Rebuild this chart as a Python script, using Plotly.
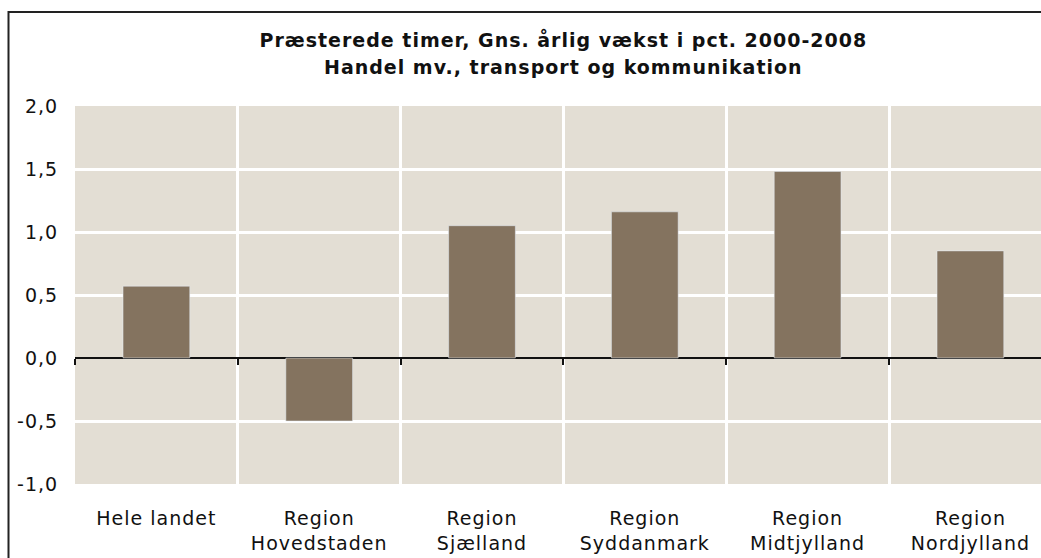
import plotly.graph_objects as go

categories = ["Hele landet", "Region<br>Hovedstaden", "Region<br>Sjælland",
              "Region<br>Syddanmark", "Region<br>Midtjylland", "Region<br>Nordjylland"]
values = [0.57, -0.50, 1.05, 1.16, 1.48, 0.85]
y_tickvals = [-1.0, -0.5, 0.0, 0.5, 1.0, 1.5, 2.0]
y_ticktext = ["-1,0", "-0,5", "0,0", "0,5", "1,0", "1,5", "2,0"]
title_lines = ["Præsterede timer, Gns. årlig vækst i pct. 2000-2008",
               "Handel mv., transport og kommunikation"]

W, H = 1041, 558
L, T, B = 75, 106, 74
pw = W - L
ph = H - T - B
cat_w = 162.8
xr = [-0.5, -0.5 + pw / cat_w]

FONT = "DejaVu Sans, Verdana, sans-serif"
BAR = "#84735F"
BG = "#E3DED4"
TXT = "#111111"

fig = go.Figure()
fig.add_trace(go.Bar(x=categories, y=values, marker=dict(color=BAR, line=dict(width=0)),
                     hoverinfo="skip", showlegend=False))
fig.add_trace(go.Bar(x=categories, y=values, xaxis="x2", marker=dict(color="rgba(0,0,0,0)"),
                     hoverinfo="skip", showlegend=False))

title_center_px = 563
title_y_px = [40, 67]
annotations = []
for line, ypx in zip(title_lines, title_y_px):
    annotations.append(dict(
        text="<b>" + line + "</b>", showarrow=False,
        xref="paper", yref="paper",
        x=(title_center_px - L) / pw, y=(H - B - ypx) / ph,
        xanchor="center", yanchor="middle",
        font=dict(family=FONT, size=19, color=TXT)))

fig.update_layout(
    width=W, height=H,
    margin=dict(l=L, r=0, t=T, b=B, pad=0),
    paper_bgcolor="white", plot_bgcolor=BG,
    bargap=0.59,
    barmode="overlay",
    font=dict(family=FONT, size=19, color=TXT),
    annotations=annotations,
    xaxis=dict(type="category", range=xr, tickson="boundaries",
               showgrid=True, gridcolor="white", gridwidth=3,
               ticks="", ticklabelstandoff=21,
               showline=False, zeroline=False, fixedrange=True,
               tickfont=dict(size=19)),
    xaxis2=dict(type="category", range=xr, overlaying="x", anchor="free",
                position=1 / 3, side="bottom", tickson="boundaries",
                showgrid=False, showticklabels=False, ticks="outside",
                ticklen=6, tickwidth=1.5, tickcolor=TXT, showline=False,
                zeroline=False),
    yaxis=dict(range=[-1, 2], tickvals=y_tickvals, ticktext=y_ticktext,
               showgrid=True, gridcolor="white", gridwidth=3,
               zeroline=True, zerolinecolor=TXT, zerolinewidth=1.5,
               ticks="outside", ticklen=12, tickcolor="rgba(0,0,0,0)",
               showline=False, tickfont=dict(size=19)),
    shapes=[dict(type="rect", xref="paper", yref="paper",
                 x0=(8.5 - L) / pw, x1=1.2, y0=-0.5, y1=(H - B - 12) / ph,
                 line=dict(color="#222222", width=2), fillcolor="rgba(0,0,0,0)",
                 layer="above")],
)

post = """
document.body.style.margin = '0';
var st = document.createElement('style');
st.textContent = '.xtick text, .ytick text, .annotation-text {letter-spacing: 1px;}';
document.head.appendChild(st);
"""

fig.write_html("out.html", post_script=post, config={"displayModeBar": False})
